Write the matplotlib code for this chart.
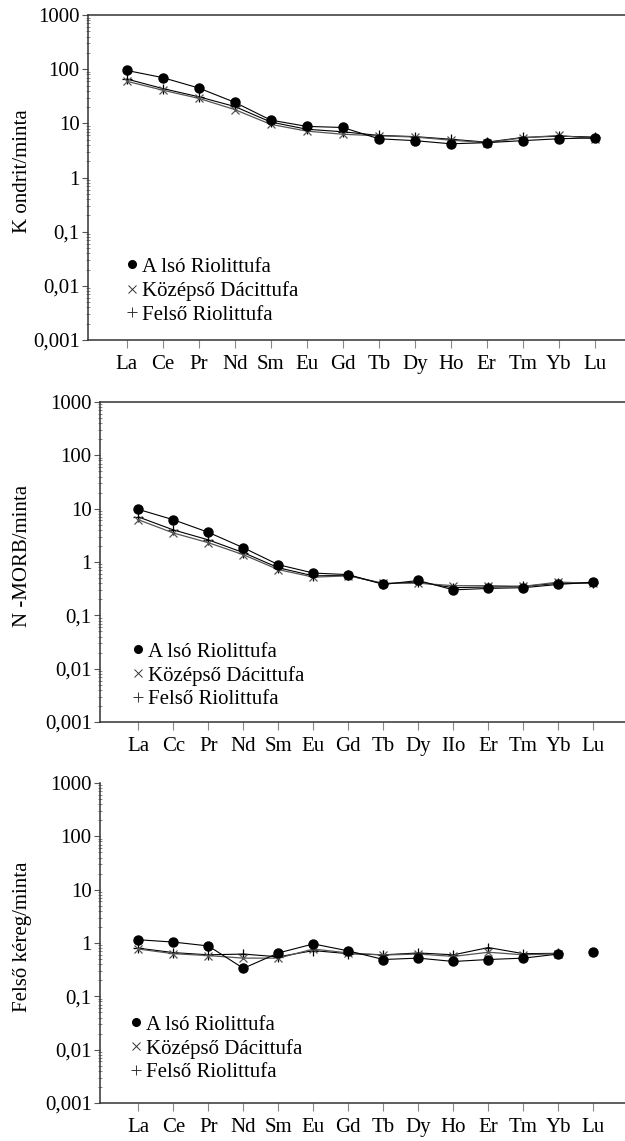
import numpy as np
import matplotlib
matplotlib.use("Agg")
import matplotlib.pyplot as plt
from matplotlib.lines import Line2D
from matplotlib.ticker import LogLocator, FixedFormatter, FixedLocator, NullFormatter

plt.rcParams['font.family'] = ['Liberation Serif', 'DejaVu Serif']

elemek1 = ["La", "Ce", "Pr", "Nd", "Sm", "Eu", "Gd", "Tb", "Dy", "Ho", "Er", "Tm", "Yb", "Lu"]
elemek2 = ["La", "Cc", "Pr", "Nd", "Sm", "Eu", "Gd", "Tb", "Dy", "IIo", "Er", "Tm", "Yb", "Lu"]
elemek3 = ["La", "Ce", "Pr", "Nd", "Sm", "Eu", "Gd", "Tb", "Dy", "Ho", "Er", "Tm", "Yb", "Lu"]

ytick_ertekek = [0.001, 0.01, 0.1, 1, 10, 100, 1000]
ytick_cimkek = ["0,001", "0,01", "0,1", "1", "10", "100", "1000"]

sorozatok = ["A lsó Riolittufa", "Középső Dácittufa", "Felső Riolittufa"]

# kondrit normalizált
kondrit_also = [95, 70, 45, 24.5, 11.5, 8.8, 8.4, 5.2, 4.8, 4.2, 4.4, 4.8, 5.2, 5.4]
kondrit_kozep = [60, 41, 29, 18, 9.6, 7.2, 6.3, 5.9, 5.6, 4.9, 4.4, 5.4, 6.0, 5.2]
kondrit_felso = [66, 44, 31, 20.5, 10.6, 7.8, 7.0, 6.0, 5.7, 5.1, 4.5, 5.5, 5.8, 5.6]

# N-MORB normalizált
morb_also = [9.7, 6.2, 3.6, 1.85, 0.89, 0.62, 0.58, 0.38, 0.45, 0.30, 0.32, 0.33, 0.38, 0.42]
morb_kozep = [6.2, 3.5, 2.3, 1.37, 0.72, 0.52, 0.55, 0.40, 0.40, 0.36, 0.36, 0.35, 0.42, 0.40]
morb_felso = [7.0, 4.0, 2.6, 1.5, 0.78, 0.55, 0.56, 0.39, 0.42, 0.33, 0.34, 0.35, 0.40, 0.40]

# felső kéreg normalizált (Lu-nál csak az alsó minta)
kereg_also = [1.15, 1.04, 0.88, 0.335, 0.65, 0.96, 0.71, 0.49, 0.52, 0.45, 0.49, 0.52, 0.62, 0.69]
kereg_kozep = [0.77, 0.63, 0.58, 0.52, 0.52, 0.77, 0.65, 0.595, 0.62, 0.56, 0.67, 0.60, 0.63, np.nan]
kereg_felso = [0.80, 0.66, 0.60, 0.62, 0.55, 0.72, 0.63, 0.60, 0.65, 0.60, 0.82, 0.63, 0.64, np.nan]

fig = plt.figure(figsize=(6.25, 11.41), dpi=100)

panelek = [
    dict(pos=[0.1408, 0.702, 0.2848], xl=(-1.075, 13.84), cimkek=elemek1,
         adat=(kondrit_also, kondrit_kozep, kondrit_felso), felirat="K ondrit/minta",
         fent=True, leg=(0.07, 0.255), also_vonal=14),
    dict(pos=[0.16, 0.3672, 0.2805], xl=(-1.094, 13.9), cimkek=elemek2,
         adat=(morb_also, morb_kozep, morb_felso), felirat="N -MORB/minta",
         fent=True, leg=(0.06, 0.25), also_vonal=14),
    dict(pos=[0.16, 0.0333, 0.2805], xl=(-1.094, 13.9), cimkek=elemek3,
         adat=(kereg_also, kereg_kozep, kereg_felso), felirat="Felső kéreg/minta",
         fent=False, leg=(0.056, 0.275), also_vonal=13),
]

x = np.arange(14)
for p in panelek:
    l, b, h = p["pos"]
    ax = fig.add_axes([l, b, 1 - l, h])
    also, kozep, felso = p["adat"]
    n = p["also_vonal"]
    ax.plot(x, felso, color="black", lw=0.8, marker="+", ms=7, mew=0.9, zorder=2)
    ax.plot(x, kozep, color="#555555", lw=0.9, marker="x", ms=6, mew=0.9, zorder=3)
    ax.plot(x[:n], also[:n], color="black", lw=0.8, zorder=4)
    ax.plot(x, also, ls="none", color="black", marker="o", ms=6.5, zorder=5)

    ax.set_yscale("log")
    ax.set_ylim(0.001, 1000)
    ax.set_xlim(*p["xl"])
    ax.yaxis.set_major_locator(FixedLocator(ytick_ertekek))
    ax.yaxis.set_major_formatter(FixedFormatter(ytick_cimkek))
    ax.yaxis.set_minor_locator(LogLocator(base=10, subs=np.arange(2, 10), numticks=20))
    ax.yaxis.set_minor_formatter(NullFormatter())
    ax.set_xticks(x)
    ax.set_xticklabels(p["cimkek"])

    for s in ["left", "bottom", "top"]:
        ax.spines[s].set_color("#333333")
        ax.spines[s].set_linewidth(1.1)
    ax.spines["right"].set_visible(False)
    ax.spines["top"].set_visible(p["fent"])

    ax.tick_params(axis="x", direction="out", length=6, width=0.8, color="#888888",
                   labelsize=15, pad=5)
    ax.tick_params(axis="y", which="major", direction="out", length=4, width=0.8,
                   color="#555555", labelsize=15, pad=2)
    ax.tick_params(axis="y", which="minor", direction="inout", length=3, width=0.6,
                   color="#777777")

    fig.text(0.036, b + h * 0.52, p["felirat"], rotation=90, ha="center", va="center",
             fontsize=15)

    fogok = [
        Line2D([], [], ls="none", marker="o", ms=5.5, color="black"),
        Line2D([], [], ls="none", marker="x", ms=6, mew=0.7, color="#333333"),
        Line2D([], [], ls="none", marker="+", ms=6.5, mew=0.7, color="#333333"),
    ]
    ax.legend(fogok, sorozatok, loc="upper left", bbox_to_anchor=p["leg"],
              frameon=False, fontsize=15, handlelength=0.6, handletextpad=0.2,
              labelspacing=0.2, borderpad=0, borderaxespad=0)

fig.savefig("out.png", dpi=100)
